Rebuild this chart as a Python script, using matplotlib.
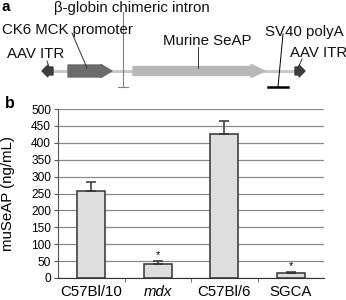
import matplotlib
matplotlib.use("Agg")
import matplotlib.pyplot as plt
from matplotlib.patches import FancyArrow

plt.rcParams['font.family'] = ['Liberation Sans', 'DejaVu Sans']

# Bar chart data (panel b)
strains = ["C57Bl/10", "mdx", "C57Bl/6", "SGCA"]
museap = [258, 41, 425, 14]
sem = [27, 10, 39, 3]
significant = [False, True, False, True]

# Construct elements (panel a), in pixel units along the schematic
arrows = [
    # (start, end, body, head, head_len, colour)
    (53, 42, 8, 12, 6, "#3c3c3c"),     # left ITR
    (68, 112, 12, 13, 11, "#6b6b6b"),  # CK6 MCK promoter
    (133, 265, 9, 13, 14, "#b8b8b8"),  # Murine SeAP
    (295, 305, 8, 12, 6, "#3c3c3c"),   # right ITR
]
labels = [
    ("\u03b2-globin chimeric intron", 54, 8),
    ("CK6 MCK promoter", 2, 30),
    ("AAV ITR", 7, 54),
    ("Murine SeAP", 163, 41),
    ("SV40 polyA", 265, 32),
    ("AAV ITR", 290, 53),
]
leaders = [
    ((72, 33), (87, 68)),
    ((47, 61), (49, 67)),
    ((198, 47), (198, 68)),
    ((302, 59), (298, 68)),
]

fig = plt.figure(figsize=(3.46, 3.0), dpi=100)

# ---- panel a: schematic ----
axa = fig.add_axes([0, 0.7, 1, 0.3])
axa.set_xlim(0, 346)
axa.set_ylim(90, 0)
axa.axis("off")

axa.plot([45, 300], [71, 71], color="#c8c8c8", lw=2.2, zorder=1)
for x0, x1, body, head, hl, col in arrows:
    axa.add_patch(FancyArrow(x0, 71, x1 - x0, 0, width=body, head_width=head,
                             head_length=hl, length_includes_head=True,
                             color=col, zorder=2))
# intron marker
axa.plot([123, 123], [12, 87], color="#808080", lw=0.8, zorder=3)
axa.plot([118, 128], [87, 87], color="#808080", lw=0.8, zorder=3)
# polyA marker
axa.plot([283, 278], [34, 87], color="black", lw=0.7, zorder=3)
axa.plot([268, 288], [87, 87], color="black", lw=1.8, zorder=3)
for (xa, ya), (xb, yb) in leaders:
    axa.plot([xa, xb], [ya, yb], color="#333333", lw=0.7, zorder=3)
for txt, x, y in labels:
    axa.text(x, y, txt, fontsize=10.8, ha="left", va="center", color="#111111")
axa.text(2, 7, "a", fontsize=11, fontweight="bold", ha="left", va="center")

# ---- panel b: bar chart ----
ax = fig.add_axes([58 / 346, 22 / 300, 266 / 346, 169 / 300])
pos = list(range(len(strains)))
ax.bar(pos, museap, width=0.42, color="#dedede", edgecolor="#333333",
       linewidth=1.1, zorder=3)
ax.errorbar(pos, museap, yerr=[[0] * len(sem), sem], fmt="none",
            ecolor="#333333", elinewidth=1.1, capsize=3.5, capthick=1.1, zorder=4)
for p, v, e, s in zip(pos, museap, sem, significant):
    if s:
        ax.text(p, v + e + 18, "*", ha="center", va="center", fontsize=8)

ax.set_xlim(-0.5, len(strains) - 0.5)
ax.set_ylim(0, 500)
ax.set_yticks(range(0, 501, 50))
ax.yaxis.grid(True, color="#8a8a8a", lw=0.9, zorder=0)
ax.set_axisbelow(True)
ax.spines["top"].set_visible(False)
ax.spines["right"].set_visible(False)
ax.spines["left"].set_color("#555555")
ax.spines["bottom"].set_color("#333333")
ax.tick_params(axis="y", labelsize=8.6, length=3, color="#555555", pad=2)
ax.set_xticks(pos)
ax.set_xticklabels(strains, fontsize=10.8)
ax.get_xticklabels()[1].set_style("italic")
ax.tick_params(axis="x", length=0, pad=5)
ax.set_xticks([0.5, 1.5, 2.5], minor=True)
ax.tick_params(axis="x", which="minor", length=3, color="#555555")
ax.set_ylabel("muSeAP (ng/mL)", fontsize=10.8)
ax.yaxis.set_label_coords(-0.16, 0.5)
fig.text(5 / 346, 1 - 104 / 300, "b", fontsize=11.5, fontweight="bold",
         ha="left", va="center")

fig.savefig("out.png", dpi=100)
